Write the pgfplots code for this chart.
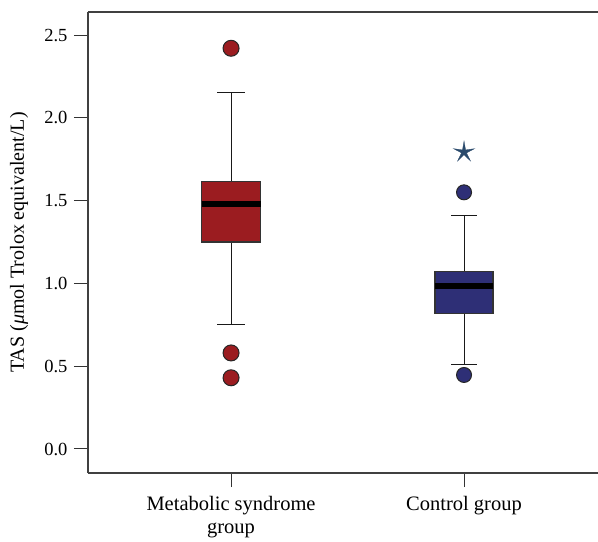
\documentclass[border=0pt]{standalone}
\usepackage{fontspec}
\setmainfont{Liberation Serif}
\usepackage{pgfplots}
\pgfplotsset{compat=1.18}
\usepgfplotslibrary{statistics}

\definecolor{msred}{HTML}{9B1C20}
\definecolor{ctblue}{HTML}{2E2F76}
\definecolor{starblue}{HTML}{2A4A6C}

% thin five-pointed star for the extreme value
\pgfdeclareplotmark{thinstar}{%
  \pgfpathmoveto{\pgfpointpolar{90}{\pgfplotmarksize}}%
  \pgfpathlineto{\pgfpointpolar{126}{0.24\pgfplotmarksize}}%
  \pgfpathlineto{\pgfpointpolar{162}{\pgfplotmarksize}}%
  \pgfpathlineto{\pgfpointpolar{198}{0.24\pgfplotmarksize}}%
  \pgfpathlineto{\pgfpointpolar{234}{\pgfplotmarksize}}%
  \pgfpathlineto{\pgfpointpolar{270}{0.24\pgfplotmarksize}}%
  \pgfpathlineto{\pgfpointpolar{306}{\pgfplotmarksize}}%
  \pgfpathlineto{\pgfpointpolar{342}{0.24\pgfplotmarksize}}%
  \pgfpathlineto{\pgfpointpolar{18}{\pgfplotmarksize}}%
  \pgfpathlineto{\pgfpointpolar{54}{0.24\pgfplotmarksize}}%
  \pgfpathclose
  \pgfusepathqfillstroke}

\begin{document}
\begin{tikzpicture}
\begin{axis}[
    scale only axis,
    width=510bp, height=461bp,
    xmin=0.386, xmax=2.575,
    ymin=-0.145, ymax=2.639,
    axis x line=box, axis y line=left,
    axis line style={-, draw=black!75, line width=1.4bp},
    xtick={1,2},
    xticklabels={{Metabolic syndrome\\group},{Control group}},
    xtick pos=bottom, ytick pos=left,
    ytick={0,0.5,1,1.5,2,2.5},
    yticklabel style={/pgf/number format/fixed, /pgf/number format/fixed zerofill,
        /pgf/number format/precision=1,
        font=\fontsize{18.5bp}{23bp}\selectfont, xshift=-3bp},
    /pgf/number format/assume math mode=true,
    tick align=outside,
    major tick length=14bp,
    tick style={black!80, line width=1bp},
    xticklabel style={align=center, font=\fontsize{20.5bp}{23bp}\selectfont, yshift=-6bp},
    ylabel={TAS (\textit{μ}mol Trolox equivalent/L)},
    ylabel style={font=\fontsize{20bp}{23bp}\selectfont,
                  at={(axis description cs:-0.135,0.5)}, anchor=center},
    boxplot/draw direction=y,
    boxplot/every whisker/.style={draw=black!90, line width=0.9bp},
    boxplot/every median/.style={draw=black, line width=6bp},
    clip=false,
]
\addplot[boxplot prepared={draw position=1,
    lower whisker=0.755, lower quartile=1.25, median=1.48,
    upper quartile=1.618, upper whisker=2.156,
    box extend=0.253, whisker extend=0.12},
    boxplot/every box/.style={draw=black!80, line width=1.1bp, fill=msred},
    mark=*, mark size=8bp,
    mark options={fill=msred, draw=black!85, line width=1bp}]
    table[row sep=\\, y index=0, header=false] {2.42\\0.58\\0.43\\};
\addplot[boxplot prepared={draw position=2,
    lower whisker=0.513, lower quartile=0.82, median=0.985,
    upper quartile=1.07, upper whisker=1.413,
    box extend=0.249, whisker extend=0.11},
    boxplot/every box/.style={draw=black!80, line width=1.1bp, fill=ctblue},
    mark=*, mark size=7.5bp,
    mark options={fill=ctblue, draw=black!85, line width=1bp}]
    table[row sep=\\, y index=0, header=false] {1.55\\0.447\\};
\addplot[only marks, mark=thinstar, mark size=11bp,
    mark options={fill=starblue, draw=starblue, line width=0.3bp}]
    coordinates {(2,1.793)};
\end{axis}
\pgfresetboundingbox
\path[use as bounding box] ([xshift=-88bp,yshift=-69bp]current axis.south west)
    rectangle ([yshift=12bp]current axis.north east);
\end{tikzpicture}
\end{document}
